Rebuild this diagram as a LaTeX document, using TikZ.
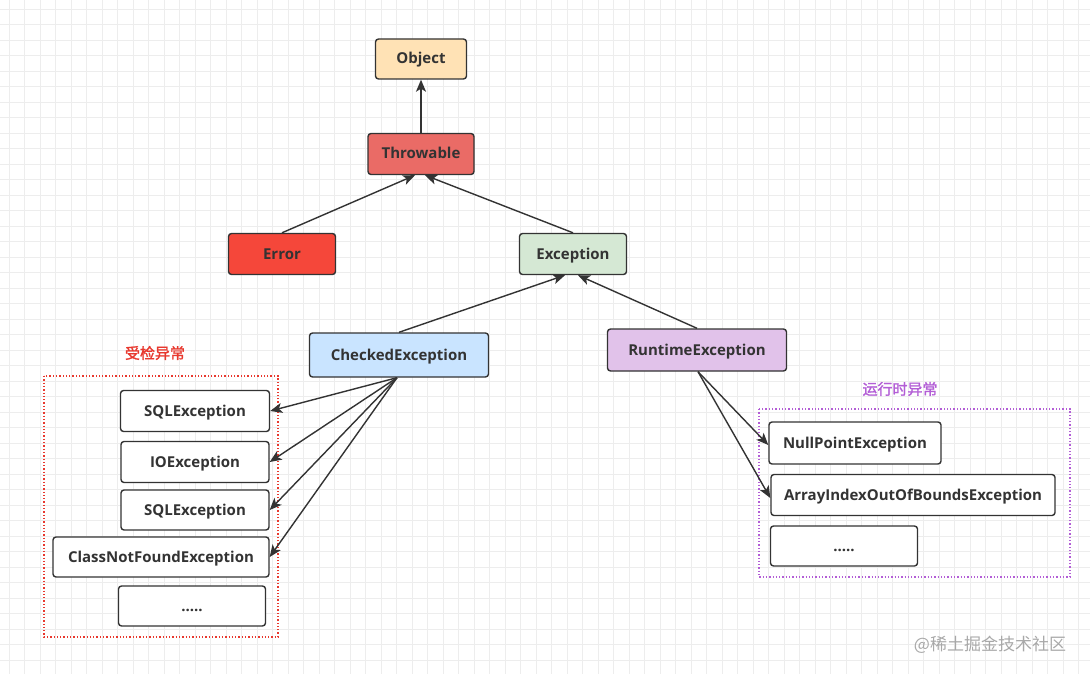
\documentclass[tikz,border=0pt]{standalone}
\usepackage{fontspec}
\usepackage{xcolor}
\usepackage{tikz}
\usetikzlibrary{
  arrows.meta,
  positioning,
  calc,
  backgrounds
}
\setmainfont{Open Sans}
\newfontfamily\cjk[AutoFakeBold=1.6]{Noto Sans CJK SC}
\definecolor{exObject}{HTML}{FFE2B5}
\definecolor{exThrow}{HTML}{EA6B66}
\definecolor{exError}{HTML}{F5473A}
\definecolor{exExcept}{HTML}{D5E8D4}
\definecolor{exChecked}{HTML}{C9E4FF}
\definecolor{exRuntime}{HTML}{E1C2EA}
\definecolor{exLine}{HTML}{333333}
\definecolor{exText}{HTML}{333333}
\definecolor{exRed}{HTML}{E8382E}
\definecolor{exPurple}{HTML}{B35ED6}
\definecolor{exGrid}{HTML}{EDEDED}
\definecolor{exMark}{HTML}{A8A8A8}
\tikzset{
  exnode/.style={
    draw=exLine, line width=1.4pt, rounded corners=3pt, minimum height=41pt,
    text=exText, font=\fontsize{15}{18}\selectfont\bfseries, inner sep=2pt,
    text height=10pt, text depth=0pt
  },
  exbox/.style={exnode, fill=white},
  objbox/.style={exnode, fill=exObject, minimum width=91pt, minimum height=40pt},
  throwbox/.style={exnode, fill=exThrow, minimum width=106pt},
  errbox/.style={exnode, fill=exError, minimum width=107pt},
  excbox/.style={exnode, fill=exExcept, minimum width=107pt},
  chkbox/.style={exnode, fill=exChecked, minimum width=179pt, minimum height=44pt},
  rtbox/.style={exnode, fill=exRuntime, minimum width=179pt, minimum height=42pt},
  zone/.style={line width=1.3pt, dotted},
  inherit/.style={-{Stealth[length=12pt, width=10pt, inset=3pt]}, line width=1.4pt, exLine},
  gridline/.style={exGrid, line width=0.8pt},
  tag/.style={font=\cjk\fontsize{15}{17}\selectfont\bfseries}
}

\begin{document}
\begin{tikzpicture}[x=1pt, y=-1pt]
  \useasboundingbox (0,0) rectangle (1090,674);
  \fill[white] (0,0) rectangle (1090,674);
  \foreach \gx in {9,24.5,...,1090} \draw[gridline] (\gx,0) -- (\gx,674);
  \foreach \gy in {9,24.5,...,674} \draw[gridline] (0,\gy) -- (1090,\gy);

  \node[objbox] (object) at (421,59) {Object};
  \node[throwbox] (throwable) at (421,154) {Throwable};
  \node[errbox] (error) at (282,254) {Error};
  \node[excbox] (exception) at (573,254) {Exception};
  \node[chkbox] (checked) at (399,355) {CheckedException};
  \node[rtbox] (runtime) at (697,350) {RuntimeException};

  \draw[zone, draw=exRed] (44,376) rectangle (278,637);
  \node[tag, text=exRed] (chklabel) at (155,353) {受检异常};
  \node[exbox, minimum width=149pt] (sql1) at (195,411) {SQLException};
  \node[exbox, minimum width=148pt] (io) at (195,462) {IOException};
  \node[exbox, minimum width=148pt, minimum height=40pt] (sql2) at (195,510) {SQLException};
  \node[exbox, minimum width=216pt, minimum height=40pt] (cnf) at (161,557) {ClassNotFoundException};
  \node[exbox, minimum width=147pt, minimum height=40pt] (chkmore) at (192,606) {.....};

  \draw[zone, draw=exPurple] (759,409) rectangle (1070,577);
  \node[tag, text=exPurple] (rtlabel) at (900,389) {运行时异常};
  \node[exbox, minimum width=172pt, minimum height=42pt] (npe) at (855,443) {NullPointException};
  \node[exbox, minimum width=284pt] (aioobe) at (913,495) {ArrayIndexOutOfBoundsException};
  \node[exbox, minimum width=147pt, minimum height=40pt] (rtmore) at (844,546) {.....};

  \draw[inherit] (throwable) -- (object);
  \draw[inherit] (error.north) -- ([xshift=-6pt]throwable.south);
  \draw[inherit] (exception.north) -- ([xshift=4pt]throwable.south);
  \draw[inherit] (checked.north) -- ([xshift=-8pt]exception.south);
  \draw[inherit] (runtime.north) -- ([xshift=5pt]exception.south);
  \draw[inherit] ([xshift=-2pt]checked.south) -- (sql1.east);
  \draw[inherit] ([xshift=-2pt]checked.south) -- (io.east);
  \draw[inherit] ([xshift=-2pt]checked.south) -- (sql2.east);
  \draw[inherit] ([xshift=-2pt]checked.south) -- (cnf.east);
  \draw[inherit] ([xshift=1pt]runtime.south) -- ([yshift=-2pt]npe.west);
  \draw[inherit] ([xshift=1pt]runtime.south) -- ([yshift=-3pt]aioobe.west);

  \node[font=\cjk\fontsize{17}{20}\selectfont, text=exMark] (mark) at (990,645) {@稀土掘金技术社区};
\end{tikzpicture}
\end{document}
